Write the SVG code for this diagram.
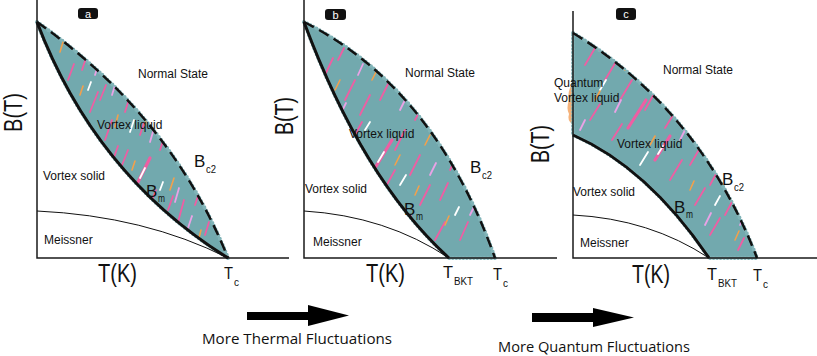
<svg xmlns="http://www.w3.org/2000/svg" width="817" height="356" viewBox="0 0 817 356">
<style>
.ax{fill:none;stroke:#1a1a1a;stroke-width:1.5}
.bm{fill:none;stroke:#111;stroke-width:3}
.bc{fill:none;stroke:#111;stroke-width:2.5;stroke-dasharray:11 6}
.ms{fill:none;stroke:#111;stroke-width:1}
.liq{fill:#72a9ae;stroke:#80b3b7;stroke-width:4;stroke-linecap:round;stroke-dasharray:0 3.5}
.lb{font-family:"Liberation Sans",Arial,sans-serif;font-size:12px;fill:#111}
.big{font-family:"Liberation Sans",Arial,sans-serif;font-size:25px;fill:#111}
.sym{font-family:"Liberation Sans",Arial,sans-serif;font-size:17px;fill:#111}
.sub{font-family:"Liberation Sans",Arial,sans-serif;font-size:10px;fill:#111}
.badge{fill:#111}
.bt{font-family:"Liberation Sans",Arial,sans-serif;font-size:11px;fill:#fff;text-anchor:middle}
.cap{font-family:"Open Sans","Liberation Sans",sans-serif;font-size:15px;fill:#111}
.p{stroke:#ee5ea3;stroke-width:1.8;stroke-linecap:round}
.P{stroke:#ee5ea3;stroke-width:3.2;stroke-linecap:round}
.lp{stroke:#eaa2e6;stroke-width:1.8;stroke-linecap:round}
.o{stroke:#f2a04c;stroke-width:1.6;stroke-linecap:round}
.w{stroke:#fff;stroke-width:1.8;stroke-linecap:round}
</style>
<defs>
<clipPath id="ca"><path d="M37,22 Q171,116 228,258 Q95,175 37,22 Z"/></clipPath>
<clipPath id="cb"><path d="M304,22 Q434,87 495,258 L449,258 Q363,180 304,22 Z"/></clipPath>
<clipPath id="cc"><path d="M573,33 Q700,110 757,258 L709,258 Q648,168 573,135 Z"/></clipPath>
</defs>

<g id="panel-a">
<path class="liq" d="M37,22 Q171,116 228,258 Q95,175 37,22 Z"/>
<g clip-path="url(#ca)">
<line class="p" x1="68" y1="80" x2="74" y2="64"/>
<line class="p" x1="90" y1="112" x2="98" y2="92"/>
<line class="p" x1="105" y1="140" x2="112" y2="120"/>
<line class="p" x1="120" y1="170" x2="128" y2="150"/>
<line class="P" x1="138" y1="182" x2="150" y2="158"/>
<line class="w" x1="140" y1="178" x2="145" y2="168"/>
<line class="p" x1="150" y1="205" x2="156" y2="190"/>
<line class="p" x1="178" y1="222" x2="184" y2="200"/>
<line class="p" x1="100" y1="100" x2="106" y2="85"/>
<line class="p" x1="125" y1="112" x2="130" y2="96"/>
<line class="p" x1="160" y1="150" x2="166" y2="132"/>
<line class="p" x1="185" y1="172" x2="190" y2="155"/>
<line class="p" x1="195" y1="205" x2="200" y2="190"/>
<line class="p" x1="205" y1="235" x2="209" y2="222"/>
<line class="p" x1="82" y1="70" x2="86" y2="58"/>
<line class="p" x1="113" y1="160" x2="118" y2="146"/>
<line class="p" x1="168" y1="210" x2="173" y2="196"/>
<line class="p" x1="140" y1="135" x2="144" y2="123"/>
<line class="w" x1="130" y1="132" x2="134" y2="120"/>
<line class="w" x1="88" y1="90" x2="91" y2="82"/>
<line class="w" x1="160" y1="190" x2="163" y2="182"/>
<line class="o" x1="80" y1="95" x2="83" y2="86"/>
<line class="o" x1="115" y1="127" x2="118" y2="115"/>
<line class="o" x1="170" y1="190" x2="174" y2="178"/>
<line class="o" x1="198" y1="242" x2="201" y2="230"/>
<line class="o" x1="60" y1="52" x2="63" y2="42"/>
<line class="o" x1="145" y1="125" x2="148" y2="115"/>
<line class="o" x1="132" y1="170" x2="135" y2="161"/>
<line class="lp" x1="95" y1="75" x2="99" y2="62"/>
<line class="lp" x1="150" y1="142" x2="155" y2="125"/>
<line class="lp" x1="175" y1="202" x2="179" y2="188"/>
<line class="lp" x1="112" y1="95" x2="116" y2="82"/>
<line class="lp" x1="188" y1="228" x2="192" y2="216"/>
</g>
<path class="ax" d="M37,0 V258 H289"/>
<path class="ms" d="M37,211 Q145,216 228,258"/>
<path class="bm" d="M37,22 Q95,175 228,258"/>
<path class="bc" d="M37,22 Q171,116 228,258"/>
<rect class="badge" x="78" y="8" width="20" height="11" rx="3"/>
<text class="bt" x="88" y="17.5">a</text>
<text class="lb" x="138" y="78">Normal State</text>
<text class="lb" x="97" y="129">Vortex liquid</text>
<text class="lb" x="43" y="180">Vortex solid</text>
<text class="lb" x="44" y="244">Meissner</text>
<text class="big" transform="translate(22,132) rotate(-90)" textLength="39" lengthAdjust="spacingAndGlyphs">B(T)</text>
<text class="big" x="98" y="282" textLength="39" lengthAdjust="spacingAndGlyphs">T(K)</text>
<text class="sym" x="146" y="197">B</text>
<text class="sub" x="158" y="202" textLength="7" lengthAdjust="spacingAndGlyphs">m</text>
<text class="sym" x="194" y="167">B</text>
<text class="sub" x="206" y="173" textLength="10" lengthAdjust="spacingAndGlyphs">c2</text>
<text class="sym" x="224" y="279" textLength="9" lengthAdjust="spacingAndGlyphs">T</text>
<text class="sub" x="234" y="286" textLength="5" lengthAdjust="spacingAndGlyphs">c</text>
</g>

<g id="panel-b">
<path class="liq" d="M304,22 Q434,87 495,258 L449,258 Q363,180 304,22 Z"/>
<g clip-path="url(#cb)">
<line class="p" x1="325" y1="75" x2="333" y2="58"/>
<line class="p" x1="345" y1="100" x2="355" y2="80"/>
<line class="p" x1="360" y1="115" x2="370" y2="95"/>
<line class="p" x1="380" y1="100" x2="388" y2="84"/>
<line class="p" x1="352" y1="140" x2="362" y2="122"/>
<line class="P" x1="375" y1="168" x2="392" y2="140"/>
<line class="w" x1="378" y1="162" x2="384" y2="152"/>
<line class="p" x1="395" y1="150" x2="405" y2="130"/>
<line class="p" x1="410" y1="175" x2="420" y2="155"/>
<line class="p" x1="385" y1="188" x2="395" y2="170"/>
<line class="p" x1="420" y1="205" x2="430" y2="185"/>
<line class="p" x1="440" y1="200" x2="448" y2="183"/>
<line class="p" x1="435" y1="240" x2="445" y2="222"/>
<line class="p" x1="460" y1="240" x2="468" y2="222"/>
<line class="p" x1="415" y1="120" x2="423" y2="105"/>
<line class="p" x1="338" y1="60" x2="344" y2="48"/>
<line class="p" x1="450" y1="170" x2="456" y2="158"/>
<line class="p" x1="405" y1="228" x2="411" y2="216"/>
<line class="w" x1="400" y1="185" x2="406" y2="175"/>
<line class="w" x1="365" y1="130" x2="370" y2="122"/>
<line class="w" x1="455" y1="215" x2="459" y2="207"/>
<line class="o" x1="335" y1="90" x2="340" y2="80"/>
<line class="o" x1="395" y1="165" x2="400" y2="155"/>
<line class="o" x1="425" y1="145" x2="430" y2="135"/>
<line class="o" x1="445" y1="225" x2="449" y2="216"/>
<line class="o" x1="372" y1="80" x2="376" y2="72"/>
<line class="o" x1="415" y1="195" x2="419" y2="186"/>
<line class="lp" x1="340" y1="115" x2="346" y2="103"/>
<line class="lp" x1="400" y1="110" x2="406" y2="98"/>
<line class="lp" x1="430" y1="175" x2="436" y2="163"/>
<line class="lp" x1="470" y1="215" x2="476" y2="203"/>
<line class="lp" x1="358" y1="75" x2="363" y2="64"/>
</g>
<path class="ax" d="M304,0 V258 H557"/>
<path class="ms" d="M304,211 Q386,216 449,258"/>
<path class="bm" d="M304,22 Q363,180 449,258"/>
<path class="bc" d="M304,22 Q434,87 495,258"/>
<rect class="badge" x="325" y="9" width="21" height="11" rx="3"/>
<text class="bt" x="335.5" y="18.5">b</text>
<text class="lb" x="405" y="77">Normal State</text>
<text class="lb" x="349" y="138">Vortex liquid</text>
<text class="lb" x="305" y="193">Vortex solid</text>
<text class="lb" x="313" y="246">Meissner</text>
<text class="big" transform="translate(293,135) rotate(-90)" textLength="38" lengthAdjust="spacingAndGlyphs">B(T)</text>
<text class="big" x="366" y="282" textLength="39" lengthAdjust="spacingAndGlyphs">T(K)</text>
<text class="sym" x="404" y="215">B</text>
<text class="sub" x="416" y="220" textLength="7" lengthAdjust="spacingAndGlyphs">m</text>
<text class="sym" x="470" y="173">B</text>
<text class="sub" x="482" y="179" textLength="10" lengthAdjust="spacingAndGlyphs">c2</text>
<text class="sym" x="443" y="278" textLength="10" lengthAdjust="spacingAndGlyphs">T</text>
<text class="sub" x="454" y="285" textLength="19" lengthAdjust="spacingAndGlyphs">BKT</text>
<text class="sym" x="493" y="280" textLength="9" lengthAdjust="spacingAndGlyphs">T</text>
<text class="sub" x="503" y="287" textLength="5" lengthAdjust="spacingAndGlyphs">c</text>
</g>

<g id="panel-c">
<path d="M572,84 q-5,8 -3,16 q-3,8 0,14 q-2,6 3,10 Z" fill="#f5b27a"/>
<path class="liq" d="M573,33 Q700,110 757,258 L709,258 Q648,168 573,135 Z"/>
<g clip-path="url(#cc)">
<line class="p" x1="585" y1="65" x2="595" y2="48"/>
<line class="p" x1="605" y1="80" x2="617" y2="60"/>
<line class="p" x1="620" y1="100" x2="632" y2="80"/>
<line class="p" x1="590" y1="120" x2="600" y2="104"/>
<line class="P" x1="628" y1="128" x2="646" y2="100"/>
<line class="p" x1="645" y1="110" x2="655" y2="92"/>
<line class="p" x1="612" y1="140" x2="622" y2="124"/>
<line class="P" x1="655" y1="160" x2="670" y2="136"/>
<line class="w" x1="658" y1="154" x2="663" y2="146"/>
<line class="p" x1="670" y1="180" x2="682" y2="160"/>
<line class="p" x1="690" y1="165" x2="700" y2="148"/>
<line class="p" x1="695" y1="205" x2="705" y2="188"/>
<line class="p" x1="710" y1="235" x2="720" y2="218"/>
<line class="p" x1="725" y1="215" x2="733" y2="200"/>
<line class="p" x1="665" y1="128" x2="675" y2="112"/>
<line class="p" x1="600" y1="50" x2="606" y2="40"/>
<line class="p" x1="710" y1="185" x2="716" y2="174"/>
<line class="p" x1="738" y1="250" x2="744" y2="238"/>
<line class="w" x1="600" y1="90" x2="606" y2="80"/>
<line class="w" x1="640" y1="165" x2="648" y2="152"/>
<line class="w" x1="715" y1="205" x2="720" y2="196"/>
<line class="o" x1="595" y1="100" x2="600" y2="91"/>
<line class="o" x1="650" y1="145" x2="655" y2="136"/>
<line class="o" x1="690" y1="190" x2="694" y2="181"/>
<line class="o" x1="735" y1="240" x2="739" y2="231"/>
<line class="o" x1="625" y1="70" x2="629" y2="62"/>
<line class="o" x1="680" y1="120" x2="684" y2="111"/>
<line class="lp" x1="615" y1="112" x2="621" y2="100"/>
<line class="lp" x1="680" y1="140" x2="686" y2="128"/>
<line class="lp" x1="705" y1="225" x2="711" y2="213"/>
<line class="lp" x1="740" y1="225" x2="745" y2="214"/>
<line class="lp" x1="580" y1="130" x2="585" y2="120"/>
</g>
<path class="ax" d="M573,11 V258 H817"/>
<path class="ms" d="M573,215 Q650,219 709,258"/>
<path class="bm" d="M573,135 Q648,168 709,258"/>
<path class="bc" d="M573,33 Q700,110 757,258"/>
<rect class="badge" x="616" y="8" width="20" height="12" rx="3"/>
<text class="bt" x="626" y="18">c</text>
<text class="lb" x="663" y="74">Normal State</text>
<text class="lb" x="554" y="87">Quantum</text>
<text class="lb" x="554" y="102">Vortex liquid</text>
<text class="lb" x="617" y="148">Vortex liquid</text>
<text class="lb" x="573" y="196">Vortex solid</text>
<text class="lb" x="580" y="247">Meissner</text>
<text class="big" transform="translate(549,163) rotate(-90)" textLength="38" lengthAdjust="spacingAndGlyphs">B(T)</text>
<text class="big" x="632" y="283" textLength="38" lengthAdjust="spacingAndGlyphs">T(K)</text>
<text class="sym" x="674" y="213">B</text>
<text class="sub" x="686" y="218" textLength="7" lengthAdjust="spacingAndGlyphs">m</text>
<text class="sym" x="722" y="185">B</text>
<text class="sub" x="734" y="191" textLength="10" lengthAdjust="spacingAndGlyphs">c2</text>
<text class="sym" x="707" y="280" textLength="10" lengthAdjust="spacingAndGlyphs">T</text>
<text class="sub" x="718" y="287" textLength="19" lengthAdjust="spacingAndGlyphs">BKT</text>
<text class="sym" x="753" y="281" textLength="9" lengthAdjust="spacingAndGlyphs">T</text>
<text class="sub" x="763" y="288" textLength="5" lengthAdjust="spacingAndGlyphs">c</text>
</g>

<g id="connectors">
<g id="arrow-thermal">
<rect x="247" y="312" width="62" height="8" fill="#000"/>
<polygon points="308,305 349,315.5 308,326" fill="#000"/>
</g>
<g id="arrow-quantum">
<rect x="532" y="313" width="62" height="9" fill="#000"/>
<polygon points="593,308 634,317.5 593,327" fill="#000"/>
</g>
</g>
<text class="cap" x="202" y="344" textLength="190" lengthAdjust="spacingAndGlyphs">More Thermal Fluctuations</text>
<text class="cap" x="498" y="352" textLength="192" lengthAdjust="spacingAndGlyphs">More Quantum Fluctuations</text>
</svg>
